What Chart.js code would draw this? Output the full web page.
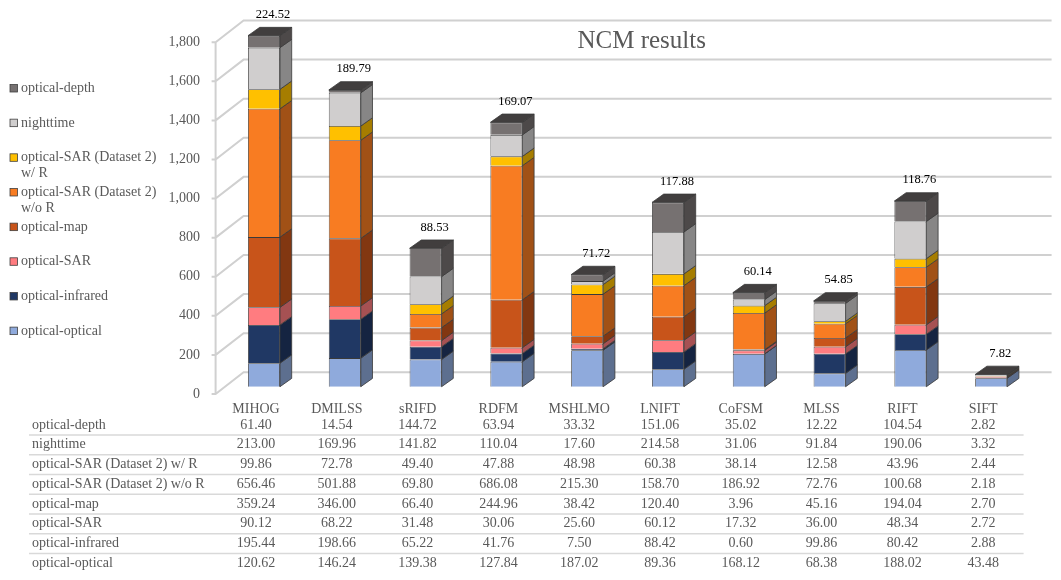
<!DOCTYPE html>
<html>
<head>
<meta charset="utf-8">
<script src="https://cdn.jsdelivr.net/npm/chart.js@4.4.0/dist/chart.umd.min.js"></script>
<style>
  body { margin: 0; background: #fff; }
  canvas { display: block; }
</style>
</head>
<body>
<canvas id="chart" width="1061" height="580"></canvas>
<script>
const categories = ['MIHOG', 'DMILSS', 'sRIFD', 'RDFM', 'MSHLMO', 'LNIFT', 'CoFSM', 'MLSS', 'RIFT', 'SIFT'];

const opticalOptical = [120.62, 146.24, 139.38, 127.84, 187.02, 89.36, 168.12, 68.38, 188.02, 43.48];
const opticalInfrared = [195.44, 198.66, 65.22, 41.76, 7.50, 88.42, 0.60, 99.86, 80.42, 2.88];
const opticalSAR = [90.12, 68.22, 31.48, 30.06, 25.60, 60.12, 17.32, 36.00, 48.34, 2.72];
const opticalMap = [359.24, 346.00, 66.40, 244.96, 38.42, 120.40, 3.96, 45.16, 194.04, 2.70];
const sarWithoutR = [656.46, 501.88, 69.80, 686.08, 215.30, 158.70, 186.92, 72.76, 100.68, 2.18];
const sarWithR = [99.86, 72.78, 49.40, 47.88, 48.98, 60.38, 38.14, 12.58, 43.96, 2.44];
const nighttime = [213.00, 169.96, 141.82, 110.04, 17.60, 214.58, 31.06, 91.84, 190.06, 3.32];
const opticalDepth = [61.40, 14.54, 144.72, 63.94, 33.32, 151.06, 35.02, 12.22, 104.54, 2.82];

// numbers printed above each column
const averages = [224.52, 189.79, 88.53, 169.07, 71.72, 117.88, 60.14, 54.85, 118.76, 7.82];

const yMin = 0;
const yMax = 1800;
const yStep = 200;

const series = [
  { label: 'optical-optical', data: opticalOptical, color: '#8faadc' },
  { label: 'optical-infrared', data: opticalInfrared, color: '#203864' },
  { label: 'optical-SAR', data: opticalSAR, color: '#ff7c80' },
  { label: 'optical-map', data: opticalMap, color: '#c8541a' },
  { label: 'optical-SAR (Dataset 2) w/o R', data: sarWithoutR, color: '#f87c22' },
  { label: 'optical-SAR (Dataset 2) w/ R', data: sarWithR, color: '#ffc000' },
  { label: 'nighttime', data: nighttime, color: '#d0cece' },
  { label: 'optical-depth', data: opticalDepth, color: '#767171' }
];

const FONT = "'Liberation Serif', 'Times New Roman', serif";
const TEXT = '#595959';
const GRID = '#d0d0d0';
const EDGE = '#3a3a3a';

const shift = { x: 8, y: -7.3 };   // bars sit a bit back from the front wall
const depth = { x: 11.7, y: -8.3 }; // bar thickness
const wall = { x: 28, y: -21.7 };  // back wall offset

function darken(hex, f) {
  const n = parseInt(hex.slice(1), 16);
  const r = Math.round(((n >> 16) & 255) * f);
  const g = Math.round(((n >> 8) & 255) * f);
  const b = Math.round((n & 255) * f);
  return `rgb(${r}, ${g}, ${b})`;
}

function poly(ctx, pts, fill) {
  ctx.beginPath();
  ctx.moveTo(pts[0][0], pts[0][1]);
  pts.slice(1).forEach((p) => ctx.lineTo(p[0], p[1]));
  ctx.closePath();
  ctx.fillStyle = fill;
  ctx.fill();
  ctx.strokeStyle = EDGE;
  ctx.lineWidth = 0.8;
  ctx.stroke();
}

function wrap(ctx, text, maxWidth) {
  const words = text.split(' ');
  const lines = [];
  let line = '';
  words.forEach((w) => {
    const test = line ? line + ' ' + w : w;
    if (line && ctx.measureText(test).width > maxWidth) {
      lines.push(line);
      line = w;
    } else {
      line = test;
    }
  });
  lines.push(line);
  return lines;
}

const scene3d = {
  id: 'scene3d',
  beforeDatasetsDraw(chart) {
    const { ctx } = chart;
    const x = chart.scales.x;
    const y = chart.scales.y;
    ctx.save();
    ctx.strokeStyle = GRID;
    ctx.lineWidth = 2;
    ctx.beginPath();
    ctx.moveTo(x.left, y.getPixelForValue(yMin));
    ctx.lineTo(x.left, y.getPixelForValue(yMax));
    y.ticks.forEach((t) => {
      const py = y.getPixelForValue(t.value);
      ctx.moveTo(x.left - 4, py);
      ctx.lineTo(x.left, py);
      ctx.lineTo(x.left + wall.x, py + wall.y);
      ctx.lineTo(x.right + wall.x, py + wall.y);
    });
    ctx.stroke();
    ctx.restore();

    ctx.save();
    ctx.translate(shift.x, shift.y);
  },
  afterDatasetsDraw(chart) {
    const { ctx } = chart;
    const last = chart.data.datasets.length - 1;
    chart.data.datasets.forEach((ds, d) => {
      const meta = chart.getDatasetMeta(d);
      meta.data.forEach((bar) => {
        const { x, y, base, width } = bar.getProps(['x', 'y', 'base', 'width'], true);
        const r = x + width / 2;
        const l = x - width / 2;
        poly(ctx, [[r, y], [r + depth.x, y + depth.y], [r + depth.x, base + depth.y], [r, base]], darken(ds.backgroundColor, 0.65));
        if (d === last) {
          poly(ctx, [[l, y], [l + depth.x, y + depth.y], [r + depth.x, y + depth.y], [r, y]], darken(ds.backgroundColor, 0.55));
        }
      });
    });
    ctx.restore();
  },
  afterDraw(chart) {
    const { ctx } = chart;
    const xs = chart.scales.x;
    const datasets = chart.data.datasets;
    const topMeta = chart.getDatasetMeta(datasets.length - 1);
    ctx.save();

    // column totals (averages) above each bar
    ctx.font = `12.5px ${FONT}`;
    ctx.fillStyle = '#000';
    ctx.textAlign = 'center';
    ctx.textBaseline = 'middle';
    topMeta.data.forEach((bar, i) => {
      const { x, y } = bar.getProps(['x', 'y'], true);
      ctx.fillText(averages[i].toFixed(2), x + shift.x + 9, y + shift.y + depth.y - 12.7);
    });

    // title
    ctx.font = `25px ${FONT}`;
    ctx.fillStyle = TEXT;
    ctx.fillText('NCM results', 641.7, 41);

    // legend
    ctx.font = `14px ${FONT}`;
    ctx.textAlign = 'left';
    datasets.slice().reverse().forEach((ds, i) => {
      const cy = 88.3 + 34.66 * i;
      ctx.fillStyle = ds.backgroundColor;
      ctx.fillRect(10, cy - 3.8, 7.5, 7.5);
      ctx.strokeStyle = '#404040';
      ctx.lineWidth = 0.8;
      ctx.strokeRect(10, cy - 3.8, 7.5, 7.5);
      ctx.fillStyle = TEXT;
      wrap(ctx, ds.label, 150).forEach((line, k) => {
        ctx.fillText(line, 21, cy + k * 15.7);
      });
    });

    // data table
    const rowY = (r) => 425 + 19.75 * r;
    ctx.strokeStyle = '#d9d9d9';
    ctx.lineWidth = 1.5;
    ctx.beginPath();
    for (let r = 0; r < datasets.length - 1; r++) {
      const ly = rowY(r) + 9.9;
      ctx.moveTo(29, ly);
      ctx.lineTo(xs.right, ly);
    }
    ctx.stroke();

    datasets.slice().reverse().forEach((ds, r) => {
      const cy = rowY(r);
      ctx.textAlign = 'left';
      ctx.fillText(ds.label, 32, cy);
      ctx.textAlign = 'center';
      ds.data.forEach((v, i) => {
        ctx.fillText(v.toFixed(2), xs.getPixelForValue(i), cy);
      });
    });
    ctx.restore();
  }
};

Chart.defaults.font.family = FONT;
Chart.defaults.color = TEXT;

new Chart(document.getElementById('chart'), {
  type: 'bar',
  data: {
    labels: categories,
    datasets: series.map((s) => ({
      label: s.label,
      data: s.data,
      backgroundColor: s.color,
      borderColor: EDGE,
      borderWidth: 0.8,
      barPercentage: 0.396,
      categoryPercentage: 1,
      clip: false
    }))
  },
  options: {
    responsive: false,
    animation: false,
    devicePixelRatio: 1,
    layout: { padding: { left: 0, right: 37.4, top: 42.2, bottom: 0 } },
    plugins: {
      legend: { display: false },
      tooltip: { enabled: false }
    },
    scales: {
      x: {
        stacked: true,
        grid: { display: false, drawTicks: false },
        border: { display: false },
        ticks: { font: { size: 14 }, color: TEXT, padding: 7, maxRotation: 0, autoSkip: false },
        afterFit: (s) => { s.height = 186; }
      },
      y: {
        stacked: true,
        min: yMin,
        max: yMax,
        grid: { display: false, drawTicks: false },
        border: { display: false },
        ticks: { stepSize: yStep, font: { size: 14 }, color: TEXT, padding: 15.6 },
        afterFit: (s) => { s.width = 215.6; }
      }
    }
  },
  plugins: [scene3d]
});
</script>
</body>
</html>
